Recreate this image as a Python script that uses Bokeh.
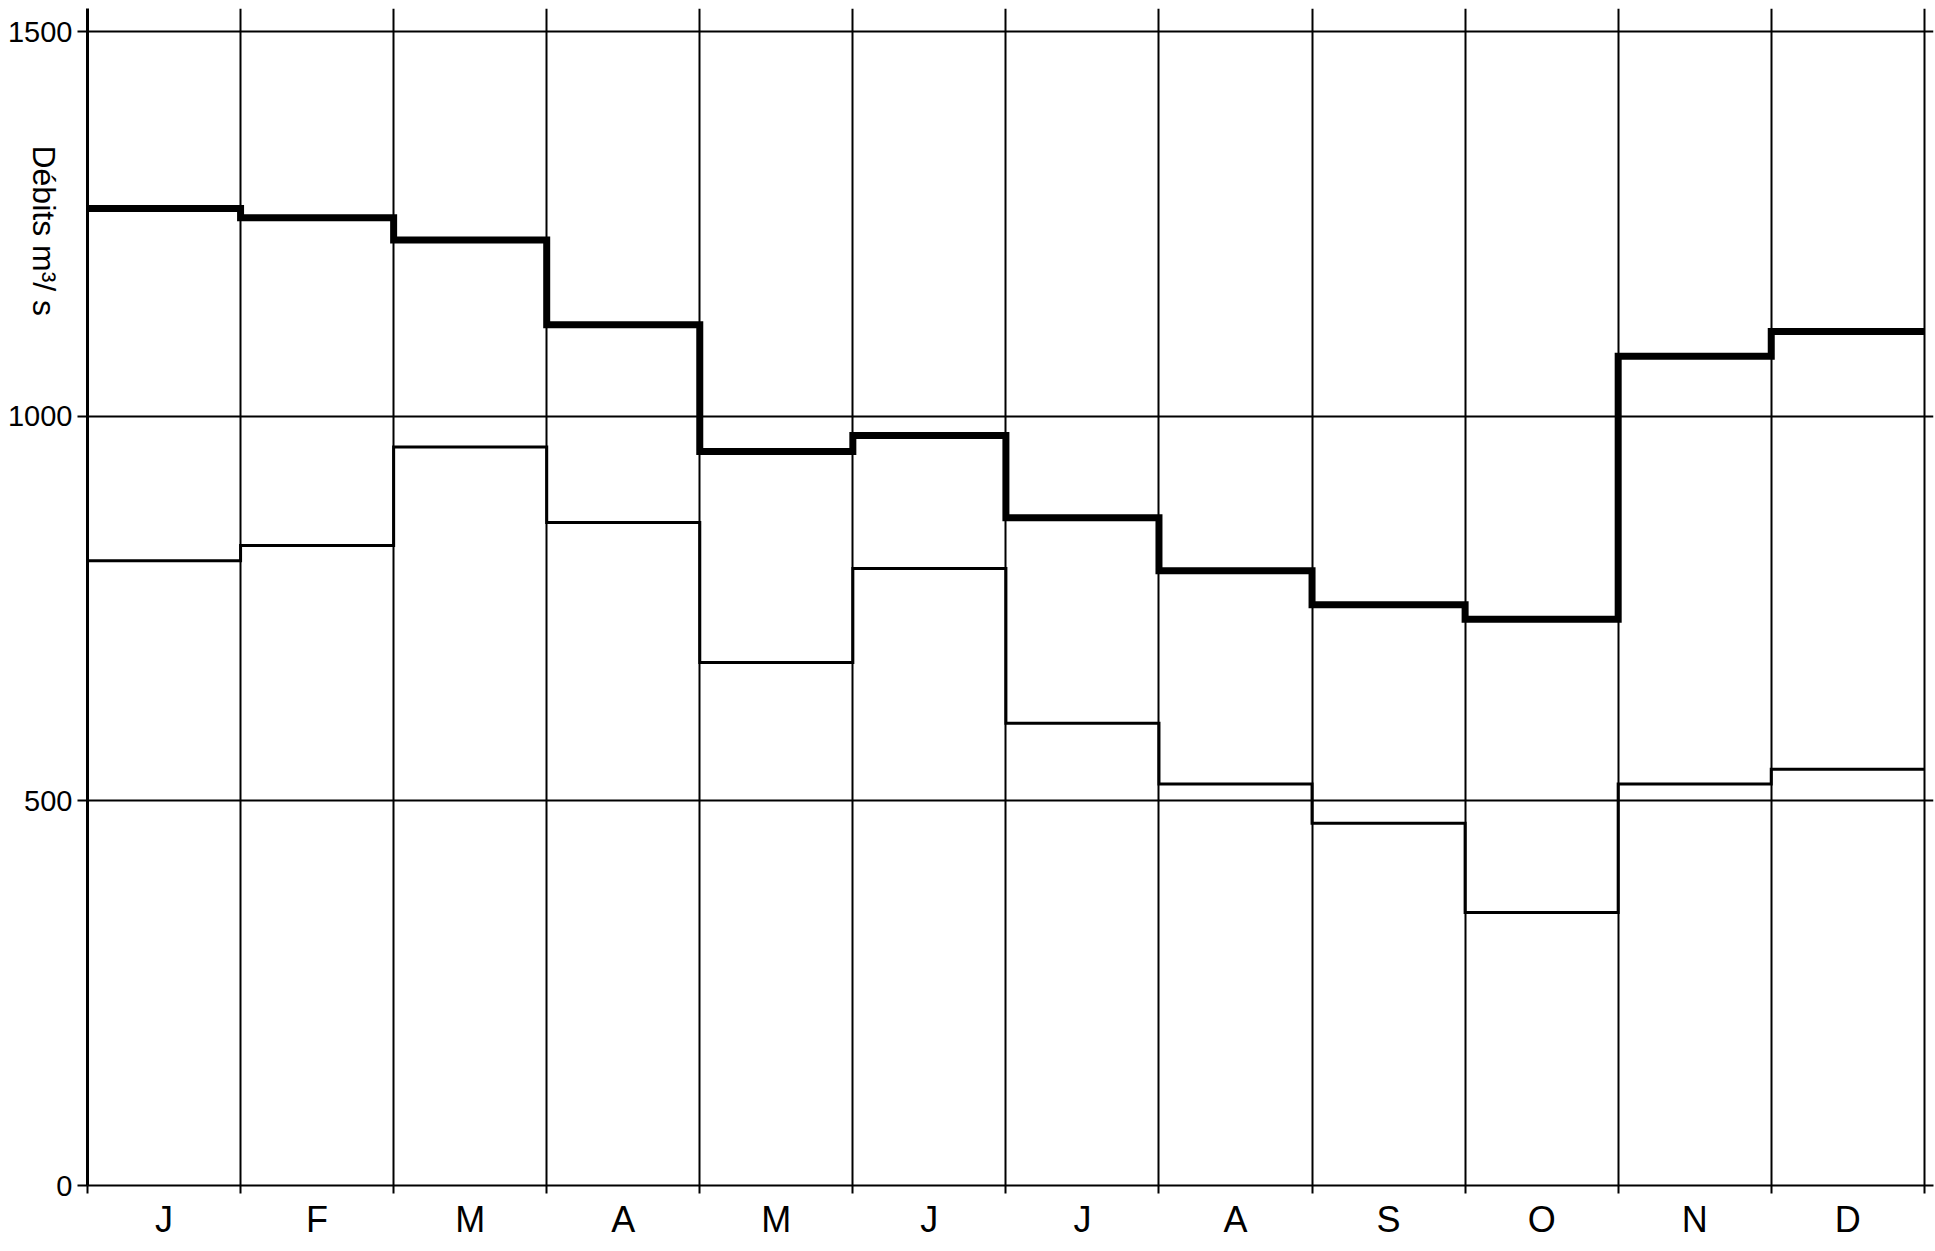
import math
from bokeh.plotting import figure
from bokeh.models import Range1d, FixedTicker
from bokeh.embed import file_html
from bokeh.resources import INLINE

# ---- data (monthly discharge, m3/s) ----
months = ["J", "F", "M", "A", "M", "J", "J", "A", "S", "O", "N", "D"]
upper = [1270, 1258, 1229, 1119, 954, 975, 868, 799, 755, 736, 1078, 1110]
lower = [812, 832, 960, 862, 680, 802, 601, 522, 471, 355, 522, 541]
y_ticks = [0, 500, 1000, 1500]
y_label = "Débits  m³/ s"

FONT = "Liberation Sans"

n = len(months)
edges = list(range(n + 1))
centers = [i + 0.5 for i in range(n)]

p = figure(width=1935, height=1251,
           x_range=Range1d(0, 12.06), y_range=Range1d(0, 1530),
           output_backend="svg", toolbar_location=None,
           min_border_left=87, min_border_right=2,
           min_border_top=8, min_border_bottom=66)
p.outline_line_color = None
p.background_fill_color = "white"
p.border_fill_color = "white"

# x axis: month letters centred, boundary ticks as minor ticks
p.xaxis.ticker = FixedTicker(ticks=centers, minor_ticks=edges)
p.xaxis.major_label_overrides = {c: m for c, m in zip(centers, months)}
p.xaxis.major_tick_out = 0
p.xaxis.major_tick_in = 0
p.xaxis.minor_tick_out = 8
p.xaxis.minor_tick_in = 0
p.xaxis.minor_tick_line_width = 2
p.xaxis.minor_tick_line_color = "black"
p.xaxis.axis_line_width = 2
p.xaxis.axis_line_color = "black"
p.xaxis.major_label_text_font = FONT
p.xaxis.major_label_text_font_size = "36px"
p.xaxis.major_label_text_color = "black"
p.xaxis.major_label_standoff = 5

# y axis
yax = p.yaxis[0]
yax.ticker = FixedTicker(ticks=y_ticks, minor_ticks=[])
yax.major_tick_out = 10
yax.major_tick_in = 0
yax.major_tick_line_width = 2
yax.major_tick_line_color = "black"
yax.axis_line_width = 3
yax.axis_line_color = "black"
yax.major_label_text_font = FONT
yax.major_label_text_font_size = "29px"
yax.major_label_text_color = "black"
yax.major_label_standoff = 5
# axis title reads top-to-bottom; trailing spaces lift it toward the top
yax.axis_label = y_label + "\u2003" * 8 + "\u2002"
yax.axis_label_text_font = FONT
yax.axis_label_text_font_size = "32px"
yax.axis_label_text_font_style = "normal"
yax.axis_label_text_color = "black"
yax.axis_label_standoff = -39
yax.axis_label_orientation = -math.pi / 2

# grids
p.xgrid.ticker = FixedTicker(ticks=edges[1:], minor_ticks=[])
p.xgrid.grid_line_color = "black"
p.xgrid.grid_line_width = 2
p.ygrid.ticker = FixedTicker(ticks=y_ticks[1:], minor_ticks=[])
p.ygrid.grid_line_color = "black"
p.ygrid.grid_line_width = 2

# series
p.step(edges, lower + [lower[-1]], mode="after", line_width=3,
       line_color="black", line_join="miter")
p.step(edges, upper + [upper[-1]], mode="after", line_width=7,
       line_color="black", line_join="miter")

open("out.html", "w").write(file_html(p, INLINE))
